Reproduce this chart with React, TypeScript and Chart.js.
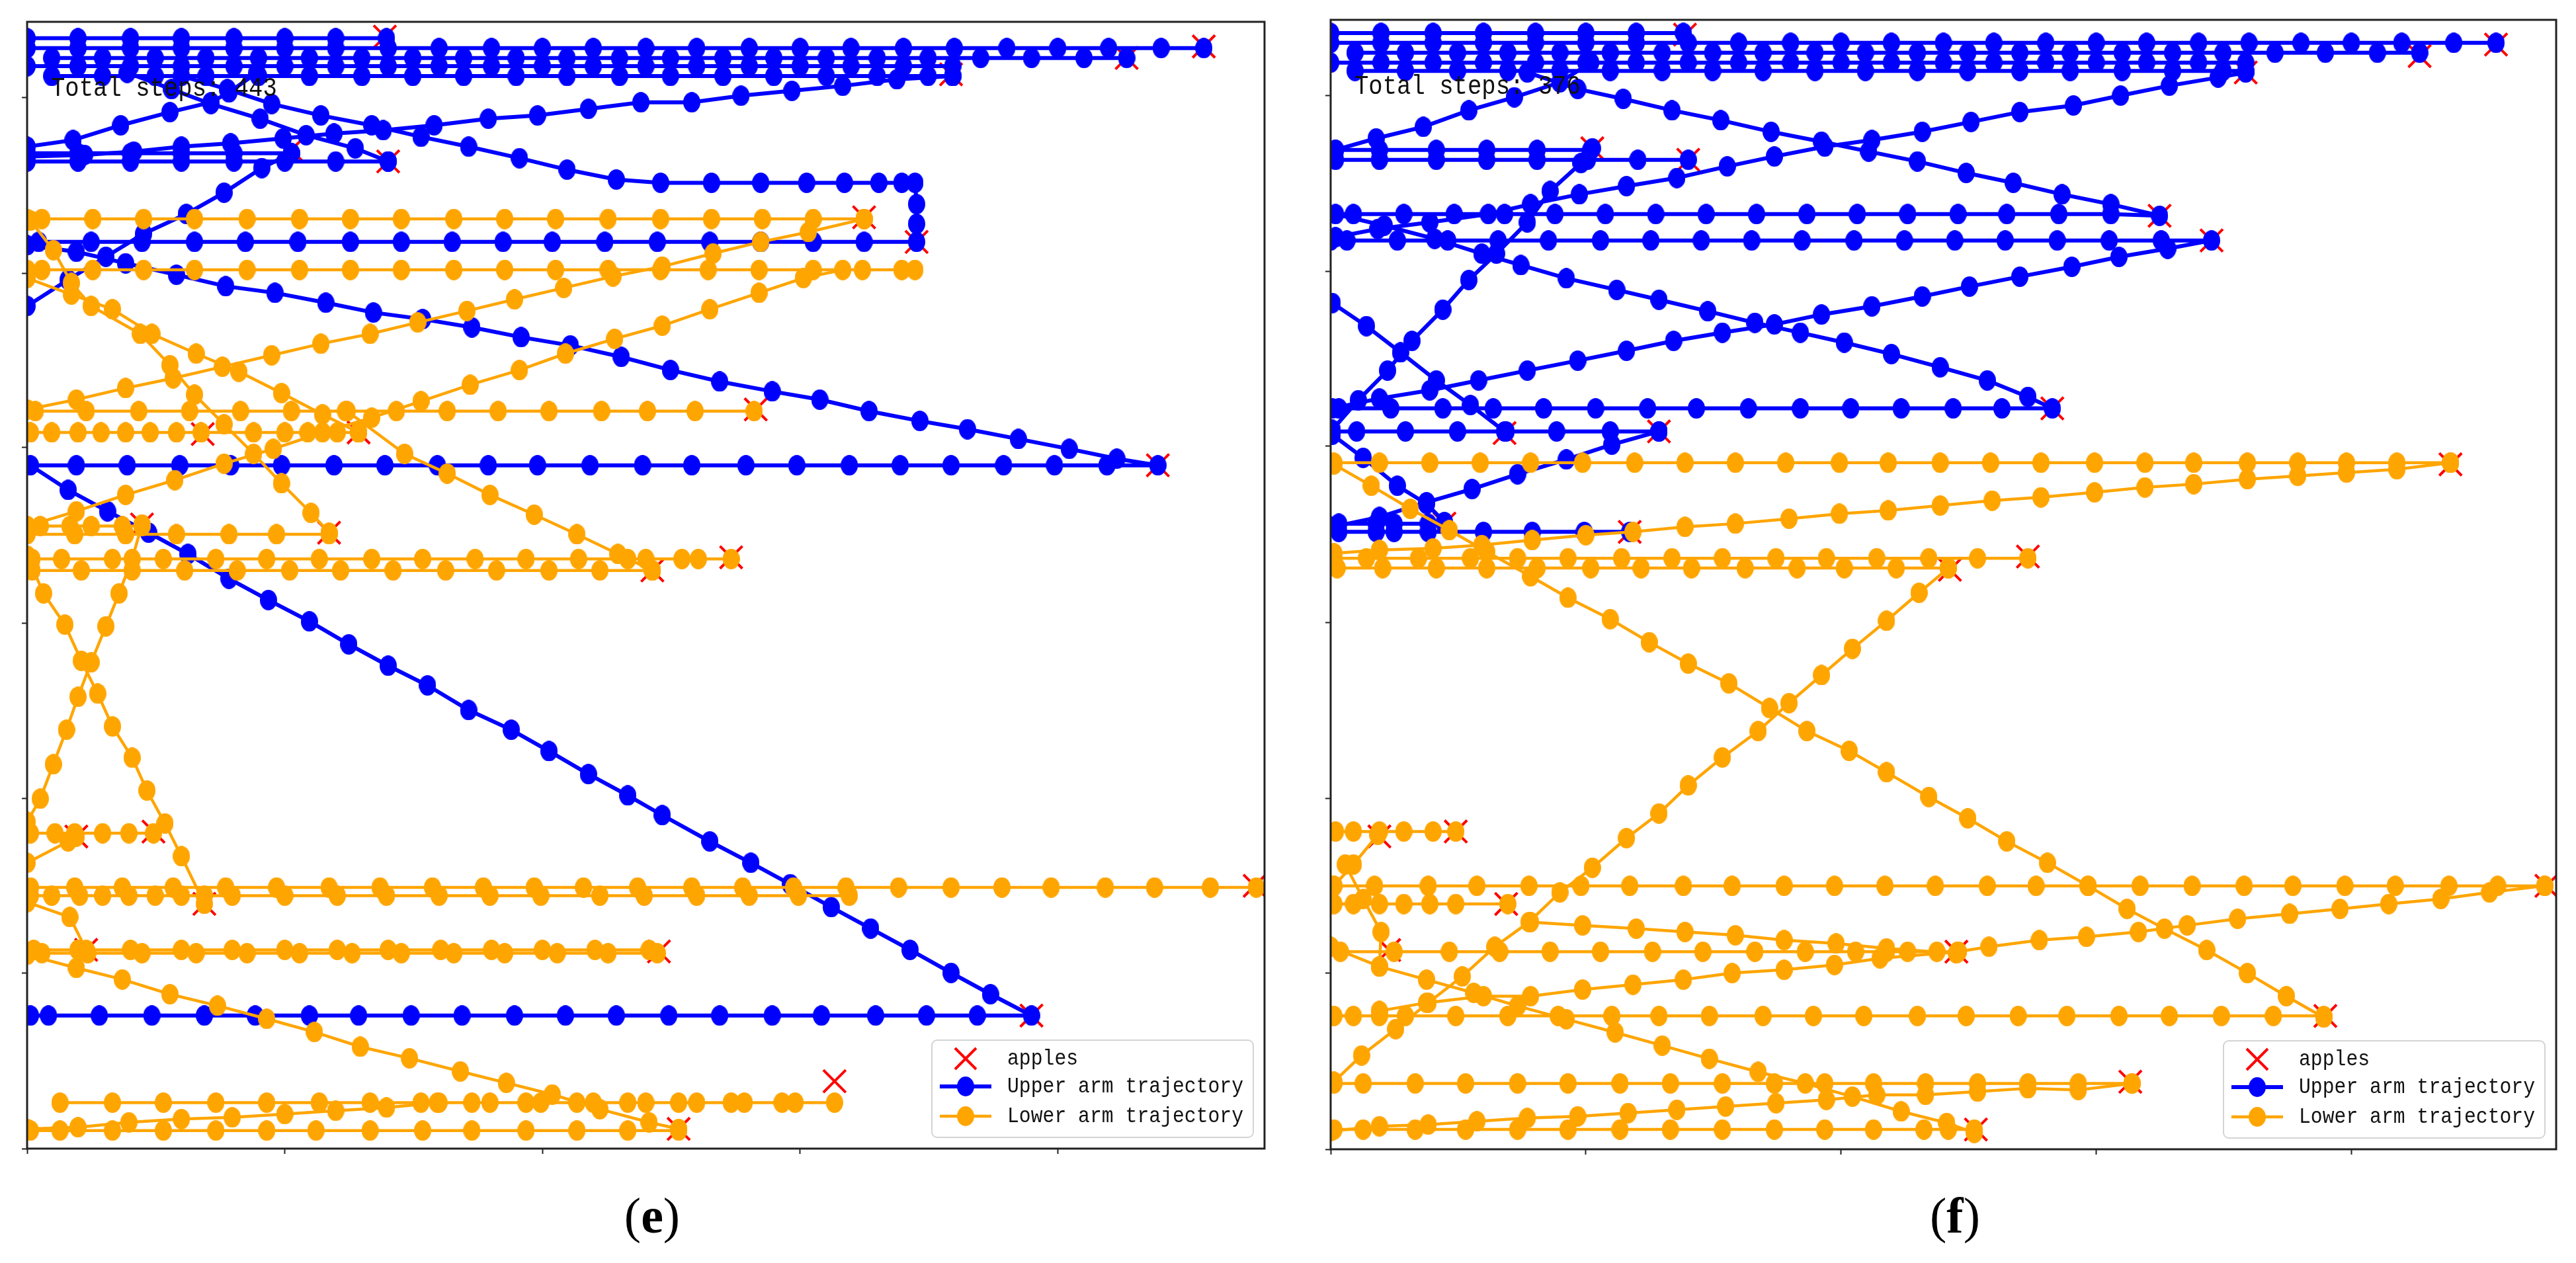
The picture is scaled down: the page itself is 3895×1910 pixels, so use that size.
import React, { useEffect, useRef } from "react";
import { Chart, registerables } from "chart.js";
Chart.register(...registerables);

type Pt = [number, number];
type Row = [number, number[]];

const X_MAX = 754;
const Y_MAX = 686;
const X_TICKS = [0, 157, 314, 471, 628];
const Y_TICKS = [0, 107, 213, 320, 427, 533, 640];

const BLUE = "#0000ff";
const ORANGE = "#ffa500";
const RED = "#ff0000";

const LEGEND_LABELS = ["apples", "Upper arm trajectory", "Lower arm trajectory"];
const TOTAL_STEPS = [443, 376];
const CAPTIONS = ["e", "f"];

// apple positions (same orchard in both panels)
const APPLE_X = [218, 717, 670, 563, 161, 220, 510, 542, 444, 107, 202, 70, 184, 429, 381, 689, 30, 77, 748, 108, 36, 385, 612, 492, 397];
const APPLE_Y = [677, 671, 664, 654, 608, 601, 567, 552, 450, 435, 436, 380, 375, 360, 352, 416, 190, 193, 160, 149, 121, 120, 81, 41, 12];

// ---------- panel (e) ----------
const E_BLUE_ROWS: Row[] = [
  [676, [0, 31, 63, 94, 126, 157, 188, 219]],
  [670, [0, 31, 63, 94, 126, 157, 188, 220, 251, 283, 314, 345, 377, 408, 440, 471, 502, 534, 565, 597, 628, 659, 691, 717]],
  [664, [15, 46, 78, 109, 141, 172, 204, 235, 266, 298, 329, 361, 392, 424, 455, 487, 518, 549, 581, 612, 644, 670]],
  [659, [0, 31, 63, 94, 126, 157, 188, 220, 251, 283, 314, 345, 377, 408, 440, 471, 502, 534, 564]],
  [653, [15, 46, 78, 109, 141, 172, 204, 235, 266, 298, 329, 361, 392, 424, 455, 487, 518, 549, 564]],
  [606, [0, 31, 63, 94, 126, 161]],
  [601, [0, 31, 63, 94, 126, 157, 188, 220]],
];
const E_BLUE_PATHS: Pt[][] = [
  [[0, 604], [35, 605], [65, 607], [94, 610], [124, 612], [156, 615], [187, 618], [217, 620], [248, 623], [281, 627], [311, 629], [342, 633], [374, 637], [405, 637], [435, 641], [466, 644], [497, 647], [530, 651], [564, 653]],
  [[61, 655], [88, 645], [112, 636], [142, 627], [170, 617], [200, 609], [220, 601]],
  [[94, 653], [122, 645], [149, 636], [179, 629], [210, 623], [240, 616], [269, 610], [300, 603], [329, 596], [359, 590], [386, 588], [417, 588], [447, 588], [475, 588], [498, 588], [519, 588], [533, 588], [541, 588], [542, 575], [542, 563], [542, 552],
   [510, 552], [479, 552], [447, 552], [416, 552], [384, 552], [352, 552], [320, 552], [290, 552], [259, 552], [228, 552], [197, 552], [165, 552], [133, 552], [102, 552], [70, 552], [39, 552], [7, 552], [0, 550],
   [30, 546], [60, 539], [91, 532], [121, 525], [151, 521], [182, 515], [211, 509], [241, 505], [271, 500], [301, 494], [331, 489], [362, 482], [392, 474], [422, 467], [454, 461], [483, 456], [513, 449], [544, 443], [573, 438], [604, 432], [635, 426], [664, 420], [689, 416],
   [658, 416], [626, 416], [595, 416], [563, 416], [532, 416], [501, 416], [469, 416], [438, 416], [405, 416], [375, 416], [343, 416], [311, 416], [281, 416], [250, 416], [218, 416], [187, 416], [155, 416], [124, 416], [93, 416], [61, 416], [30, 416], [2, 416],
   [25, 401], [49, 388], [74, 375], [98, 362], [123, 347], [147, 334], [172, 321], [196, 307], [220, 294], [244, 282], [269, 267], [295, 255], [318, 242], [342, 228], [366, 215], [387, 203], [416, 187], [441, 174], [465, 161], [490, 147], [514, 134], [538, 121], [563, 107], [587, 94], [612, 81],
   [579, 81], [548, 81], [517, 81], [484, 81], [454, 81], [422, 81], [391, 81], [359, 81], [328, 81], [297, 81], [265, 81], [234, 81], [202, 81], [172, 81], [139, 81], [108, 81], [76, 81], [44, 81], [13, 81], [2, 81]],
  [[0, 513], [25, 529], [48, 543], [71, 557], [97, 569], [120, 582], [143, 597], [161, 606]],
  [[0, 610], [28, 614], [57, 623], [87, 631], [112, 637], [123, 643], [140, 655]],
];
const E_ORANGE_ROWS: Row[] = [
  [566, [0, 9, 40, 71, 102, 134, 166, 197, 228, 260, 291, 322, 354, 386, 417, 448, 479, 510]],
  [535, [0, 9, 40, 71, 102, 134, 166, 197, 228, 260, 291, 322, 354, 386, 415, 446, 479, 509, 533, 541]],
  [449, [5, 36, 68, 99, 130, 161, 194, 225, 256, 287, 318, 350, 378, 407, 443]],
  [436, [2, 15, 31, 45, 60, 75, 91, 106, 138, 157, 171, 189, 202]],
  [379, [0, 8, 26, 39, 58, 70]],
  [374, [0, 29, 60, 91, 123, 152, 184]],
  [359, [3, 21, 52, 83, 115, 146, 178, 210, 241, 273, 304, 336, 366, 377, 399, 409, 429]],
  [352, [3, 33, 64, 96, 128, 160, 191, 223, 255, 286, 318, 349, 381]],
  [192, [2, 17, 29, 46, 62, 77]],
  [159, [2, 29, 58, 89, 121, 152, 184, 215, 247, 278, 309, 339, 372, 405, 436, 467, 499, 531, 563, 594, 624, 657, 687, 721, 749]],
  [154, [2, 15, 32, 46, 62, 78, 94, 108, 125, 157, 189, 219, 251, 282, 313, 349, 376, 408, 440, 470, 501]],
  [121, [4, 31, 63, 94, 125, 157, 189, 220, 252, 283, 314, 346, 379]],
  [119, [9, 37, 70, 103, 134, 166, 198, 228, 260, 291, 323, 354, 384]],
  [28, [20, 52, 83, 115, 146, 178, 209, 240, 251, 271, 282, 304, 313, 335, 345, 366, 377, 397, 408, 429, 437, 460, 468, 492]],
  [11, [2, 20, 52, 83, 115, 146, 176, 209, 241, 271, 304, 335, 366, 397]],
];
const E_ORANGE_PATHS: Pt[][] = [
  [[0, 450], [30, 456], [60, 463], [89, 469], [119, 476], [149, 483], [179, 490], [209, 496], [238, 503], [268, 510], [297, 517], [327, 524], [357, 531], [387, 537], [418, 545], [447, 552], [476, 558], [510, 566]],
  [[0, 379], [30, 388], [60, 398], [90, 407], [120, 417], [150, 426], [180, 436], [210, 445], [240, 455], [270, 465], [300, 474], [328, 484], [358, 493], [387, 501], [416, 511], [446, 521], [473, 530], [497, 535]],
  [[2, 565], [16, 547], [27, 527], [39, 513], [69, 496], [87, 477], [102, 459], [120, 441], [138, 423], [155, 405], [173, 387], [184, 375]],
  [[0, 530], [27, 520], [52, 511], [76, 496], [103, 484], [129, 473], [155, 460], [180, 447], [202, 436]],
  [[195, 449], [230, 423], [256, 411], [282, 398], [309, 386], [335, 374], [360, 362], [381, 352]],
  [[0, 361], [10, 338], [23, 319], [33, 297], [43, 277], [52, 257], [64, 238], [73, 218], [84, 198], [94, 178], [108, 149]],
  [[0, 199], [8, 213], [16, 234], [24, 255], [31, 275], [39, 296], [48, 318], [56, 338], [64, 359], [70, 380]],
  [[0, 118], [30, 110], [58, 103], [87, 94], [116, 87], [146, 79], [175, 71], [203, 62], [233, 55], [264, 47], [292, 40], [320, 33], [349, 24], [379, 16], [397, 12]],
  [[0, 12], [31, 13], [62, 16], [94, 18], [125, 19], [157, 21], [188, 23], [219, 25], [250, 28]],
  [[0, 174], [25, 187], [30, 190]],
  [[0, 150], [26, 141], [36, 121]],
];

// ---------- panel (f) ----------
const F_BLUE_ROWS: Row[] = [
  [678, [0, 31, 63, 94, 126, 157, 188, 217]],
  [672, [0, 31, 63, 94, 126, 157, 188, 220, 251, 283, 314, 345, 377, 408, 440, 471, 502, 534, 565, 597, 628, 659, 691, 717]],
  [666, [15, 46, 78, 109, 141, 172, 204, 235, 266, 298, 329, 361, 392, 424, 455, 487, 518, 549, 581, 612, 644, 670]],
  [660, [0, 31, 63, 94, 126, 157, 188, 220, 251, 283, 314, 345, 377, 408, 440, 471, 502, 534, 563]],
  [655, [15, 46, 78, 109, 141, 172, 204, 235, 266, 298, 329, 361, 392, 424, 455, 487, 518, 549, 563]],
  [607, [3, 30, 65, 96, 127, 160]],
  [601, [3, 30, 65, 96, 127, 158, 189, 220]],
  [436, [1, 16, 46, 78, 108, 139, 172, 202]],
  [380, [5, 28, 39, 60, 70]],
  [375, [5, 28, 39, 60, 94, 124, 156, 184]],
];
const F_BLUE_PATHS: Pt[][] = [
  [[3, 554], [29, 559], [61, 563], [97, 568], [123, 574], [153, 580], [182, 585], [213, 590], [244, 597], [273, 603], [304, 609], [333, 613], [364, 618], [394, 624], [424, 630], [457, 634], [486, 640], [516, 646], [546, 651], [563, 654]],
  [[3, 607], [28, 614], [57, 621], [85, 631], [113, 639], [141, 648], [160, 660]],
  [[121, 654], [152, 644], [180, 638], [210, 631], [240, 625], [271, 618], [302, 612], [331, 606], [361, 600], [391, 593], [420, 587], [450, 580], [480, 574], [510, 567],
   [480, 568], [448, 568], [416, 568], [386, 568], [355, 568], [324, 568], [293, 568], [262, 568], [231, 568], [200, 568], [169, 568], [138, 568], [107, 568], [76, 568], [45, 568], [14, 568], [3, 568],
   [33, 561], [64, 553], [93, 544], [117, 537], [145, 529], [176, 522], [202, 516], [232, 509], [261, 502], [289, 496], [316, 490], [345, 483], [375, 475], [404, 467], [429, 457], [444, 450],
   [413, 450], [383, 450], [351, 450], [320, 450], [289, 450], [257, 450], [225, 450], [195, 450], [163, 450], [131, 450], [100, 450], [69, 450], [37, 450], [5, 450], [1, 450],
   [30, 456], [61, 461], [91, 467], [121, 473], [152, 479], [182, 485], [211, 491], [241, 496], [273, 501], [302, 507], [333, 512], [364, 518], [393, 524], [424, 530], [456, 536], [485, 542], [515, 547], [542, 552],
   [511, 552], [479, 552], [447, 552], [415, 552], [384, 552], [353, 552], [322, 552], [290, 552], [259, 552], [228, 552], [197, 552], [166, 552], [134, 552], [103, 552], [72, 552], [41, 552], [10, 552], [0, 552]],
  [[1, 437], [17, 455], [35, 473], [50, 491], [69, 510], [85, 528], [102, 544], [121, 563], [135, 582], [154, 599], [161, 608]],
  [[1, 514], [22, 500], [43, 484], [65, 467], [86, 452], [107, 436]],
  [[1, 378], [30, 384], [59, 393], [87, 401], [115, 410], [145, 419], [173, 428], [202, 436]],
  [[1, 434], [20, 420], [41, 403], [59, 392], [70, 381]],
];
const F_ORANGE_ROWS: Row[] = [
  [417, [2, 30, 61, 92, 123, 155, 187, 218, 249, 280, 313, 343, 375, 406, 437, 470, 501, 531, 564, 595, 625, 656, 689]],
  [359, [2, 22, 54, 86, 115, 146, 179, 210, 241, 274, 305, 336, 368, 398, 429]],
  [353, [4, 32, 65, 96, 127, 160, 191, 222, 255, 287, 316, 348, 380]],
  [193, [3, 14, 30, 45, 63, 77]],
  [160, [2, 27, 60, 90, 122, 154, 184, 217, 247, 279, 310, 341, 372, 404, 434, 466, 498, 530, 562, 592, 624, 655, 688, 718, 747]],
  [149, [2, 14, 30, 45, 61, 77, 109]],
  [120, [6, 39, 73, 104, 135, 166, 198, 229, 261, 292, 323, 342, 355, 373, 386]],
  [81, [2, 14, 30, 46, 77, 109, 140, 173, 202, 233, 266, 297, 328, 361, 391, 423, 453, 485, 516, 548, 580, 611]],
  [40, [2, 20, 52, 83, 115, 146, 178, 209, 241, 273, 304, 334, 366, 398, 429, 460, 493]],
  [12, [2, 20, 52, 83, 115, 146, 178, 209, 241, 273, 304, 334, 365, 380, 396]],
];
const F_ORANGE_PATHS: Pt[][] = [
  [[2, 362], [30, 364], [63, 365], [93, 367], [124, 370], [157, 373], [186, 375], [218, 378], [249, 380], [282, 383], [313, 386], [343, 388], [375, 391], [407, 394], [437, 396], [470, 399], [501, 402], [531, 404], [564, 407], [595, 409], [625, 411], [656, 413], [689, 417]],
  [[2, 416], [25, 403], [49, 389], [73, 376], [96, 363], [123, 348], [146, 335], [172, 322], [196, 308], [220, 295], [245, 283], [270, 268], [293, 254], [319, 242], [342, 229], [368, 214], [392, 201], [416, 187], [441, 174], [466, 160], [490, 146], [513, 134], [539, 121], [564, 107], [588, 93], [611, 80]],
  [[2, 41], [19, 57], [40, 73], [60, 89], [81, 105], [101, 123], [122, 138], [141, 156], [161, 171], [182, 189], [202, 204], [220, 221], [241, 238], [263, 254], [282, 271], [302, 288], [321, 304], [342, 321], [362, 338], [380, 353]],
  [[386, 120], [405, 123], [436, 127], [465, 129], [497, 132], [527, 136], [558, 140], [590, 143], [621, 146], [651, 149], [683, 152], [713, 156], [747, 160]],
  [[0, 123], [30, 111], [59, 103], [88, 95], [115, 87], [145, 79], [175, 71], [204, 63], [233, 55], [263, 47], [292, 40], [321, 32], [351, 23], [379, 16], [396, 10]],
  [[123, 138], [155, 136], [188, 134], [218, 132], [249, 130], [279, 127], [311, 125], [342, 122], [385, 119]],
  [[30, 84], [59, 89], [94, 93], [123, 93], [155, 97], [186, 100], [217, 103], [247, 107], [279, 109], [310, 112], [338, 116], [386, 120]],
  [[0, 11], [30, 14], [60, 15], [90, 17], [121, 19], [152, 20], [183, 22], [213, 24], [243, 26], [274, 28], [305, 30], [336, 33], [366, 33], [398, 35], [429, 37], [460, 36], [493, 40]],
  [[9, 173], [20, 152], [31, 132], [30, 111]],
  [[2, 160], [14, 173], [29, 191]],
];

type PanelSpec = {
  blueRows: Row[];
  bluePaths: Pt[][];
  orangeRows: Row[];
  orangePaths: Pt[][];
  steps: number;
  caption: string;
  left: number;
  width: number;
  pad: { left: number; right: number; top: number; bottom: number };
};

const PANELS: PanelSpec[] = [
  { blueRows: E_BLUE_ROWS, bluePaths: E_BLUE_PATHS, orangeRows: E_ORANGE_ROWS, orangePaths: E_ORANGE_PATHS, steps: TOTAL_STEPS[0], caption: CAPTIONS[0], left: 0, width: 1960, pad: { left: 41, right: 48, top: 33, bottom: 53 } },
  { blueRows: F_BLUE_ROWS, bluePaths: F_BLUE_PATHS, orangeRows: F_ORANGE_ROWS, orangePaths: F_ORANGE_PATHS, steps: TOTAL_STEPS[1], caption: CAPTIONS[1], left: 1960, width: 1935, pad: { left: 52, right: 30, top: 30, bottom: 52 } },
];
const CANVAS_H = 1790;

// slightly tall oval dot, as in the (vertically stretched) reference
const DOT_W = 26;
const DOT_H = 31;
function makeDot(color: string): HTMLCanvasElement {
  const c = document.createElement("canvas");
  c.width = DOT_W;
  c.height = DOT_H;
  const g = c.getContext("2d")!;
  g.fillStyle = color;
  g.beginPath();
  g.ellipse(DOT_W / 2, DOT_H / 2, DOT_W / 2, DOT_H / 2, 0, 0, Math.PI * 2);
  g.fill();
  return c;
}

function lineSets(rows: Row[], paths: Pt[][], color: string, width: number) {
  const dot = makeDot(color);
  const lines = [
    ...rows.map(([y, xs]) => xs.map((x) => ({ x, y }))),
    ...paths.map((p) => p.map(([x, y]) => ({ x, y }))),
  ];
  return lines.map((data) => ({
    data,
    borderColor: color,
    backgroundColor: color,
    borderWidth: width,
    pointStyle: dot,
    pointRadius: 13,
    pointHoverRadius: 13,
    pointBackgroundColor: color,
    pointBorderColor: color,
    pointBorderWidth: 0,
    showLine: true,
    tension: 0,
    clip: 0,
  }));
}

const MONO = "'Liberation Mono', 'DejaVu Sans Mono', monospace";

function drawX(ctx: CanvasRenderingContext2D, x: number, y: number, s: number) {
  ctx.beginPath();
  ctx.moveTo(x - s, y - s);
  ctx.lineTo(x + s, y + s);
  ctx.moveTo(x + s, y - s);
  ctx.lineTo(x - s, y + s);
  ctx.stroke();
}

function condensedText(ctx: CanvasRenderingContext2D, text: string, x: number, y: number, sx: number) {
  ctx.save();
  ctx.translate(x, y);
  ctx.scale(sx, 1);
  ctx.fillText(text, 0, 0);
  ctx.restore();
}

function makeDecor(steps: number) {
  return {
    id: "decor",
    afterDatasetsDraw(chart: any) {
      const { ctx, chartArea: a } = chart;
      ctx.save();
      ctx.strokeStyle = "#222";
      ctx.lineWidth = 3;
      ctx.strokeRect(a.left, a.top, a.right - a.left, a.bottom - a.top);
      ctx.fillStyle = "#111";
      ctx.font = `40px ${MONO}`;
      ctx.textBaseline = "middle";
      ctx.textAlign = "left";
      condensedText(ctx, `Total steps: ${steps}`, a.left + 36, a.top + 101, 0.89);
      ctx.restore();
    },
    afterDraw(chart: any) {
      const { ctx, chartArea: a } = chart;
      const w = 486;
      const h = 147;
      const x0 = a.right - 17 - w;
      const y0 = a.bottom - 17 - h;
      ctx.save();
      ctx.beginPath();
      (ctx as any).roundRect(x0, y0, w, h, 8);
      ctx.fillStyle = "rgba(255,255,255,0.85)";
      ctx.fill();
      ctx.strokeStyle = "#d4d4d4";
      ctx.lineWidth = 2;
      ctx.stroke();
      const rowsY = [y0 + 28, y0 + 70, y0 + 115];
      const mx = x0 + 51;
      ctx.strokeStyle = RED;
      ctx.lineWidth = 4;
      drawX(ctx, mx, rowsY[0], 16);
      const cols = [BLUE, ORANGE];
      const lw = [6, 4.5];
      for (let i = 0; i < 2; i++) {
        const yy = rowsY[i + 1];
        ctx.strokeStyle = cols[i];
        ctx.lineWidth = lw[i];
        ctx.beginPath();
        ctx.moveTo(x0 + 12, yy);
        ctx.lineTo(x0 + 90, yy);
        ctx.stroke();
        ctx.fillStyle = cols[i];
        ctx.beginPath();
        ctx.ellipse(mx, yy, 13, 15, 0, 0, Math.PI * 2);
        ctx.fill();
      }
      ctx.fillStyle = "#111";
      ctx.font = `34px ${MONO}`;
      ctx.textBaseline = "middle";
      ctx.textAlign = "left";
      LEGEND_LABELS.forEach((t, i) => condensedText(ctx, t, x0 + 114, rowsY[i], 0.875));
      ctx.restore();
    },
  };
}

function Panel({ spec }: { spec: PanelSpec }) {
  const ref = useRef<HTMLCanvasElement | null>(null);
  useEffect(() => {
    if (!ref.current) return;
    const apples = {
      data: APPLE_X.map((x, i) => ({ x, y: APPLE_Y[i] })),
      showLine: false,
      pointStyle: "crossRot",
      pointRadius: 24,
      pointHoverRadius: 24,
      pointBorderColor: RED,
      pointBorderWidth: 4,
      pointBackgroundColor: "transparent",
      borderColor: RED,
      backgroundColor: "transparent",
      clip: 0,
    };
    const datasets: any[] = [
      ...lineSets(spec.orangeRows, spec.orangePaths, ORANGE, 4.5),
      ...lineSets(spec.blueRows, spec.bluePaths, BLUE, 6),
      apples,
    ];
    const chart = new Chart(ref.current, {
      type: "line",
      data: { datasets },
      options: {
        animation: false,
        responsive: false,
        events: [],
        layout: { padding: spec.pad },
        plugins: { legend: { display: false }, tooltip: { enabled: false }, title: { display: false } },
        scales: {
          x: {
            type: "linear",
            min: 0,
            max: X_MAX,
            afterBuildTicks: (s: any) => { s.ticks = X_TICKS.map((value) => ({ value })); },
            afterFit: (s: any) => { s.height = 0; },
            ticks: { display: false },
            grid: { drawOnChartArea: false, drawTicks: true, tickLength: 8, tickColor: "#222", tickWidth: 2 },
            border: { display: false },
          },
          y: {
            type: "linear",
            min: 0,
            max: Y_MAX,
            afterBuildTicks: (s: any) => { s.ticks = Y_TICKS.map((value) => ({ value })); },
            afterFit: (s: any) => { s.width = 0; },
            ticks: { display: false },
            grid: { drawOnChartArea: false, drawTicks: true, tickLength: 8, tickColor: "#222", tickWidth: 2 },
            border: { display: false },
          },
        },
      } as any,
      plugins: [makeDecor(spec.steps)],
    });
    return () => chart.destroy();
  }, [spec]);
  return (
    <canvas
      ref={ref}
      width={spec.width}
      height={CANVAS_H}
      style={{ position: "absolute", left: spec.left, top: 0, width: spec.width, height: CANVAS_H }}
    />
  );
}

const CAPTION_CENTERS = [986, 2956];

export default function App() {
  return (
    <div style={{ position: "absolute", left: 0, top: 0, width: 3895, height: 1910, background: "#fff", overflow: "hidden" }}>
      {PANELS.map((p, i) => (
        <React.Fragment key={i}>
          <Panel spec={p} />
          <div
            style={{
              position: "absolute",
              left: CAPTION_CENTERS[i] - 150,
              width: 300,
              top: 1793,
              textAlign: "center",
              fontFamily: "'Liberation Serif', 'DejaVu Serif', serif",
              fontSize: 76,
              lineHeight: "90px",
              color: "#000",
            }}
          >
            (<b>{p.caption}</b>)
          </div>
        </React.Fragment>
      ))}
    </div>
  );
}
